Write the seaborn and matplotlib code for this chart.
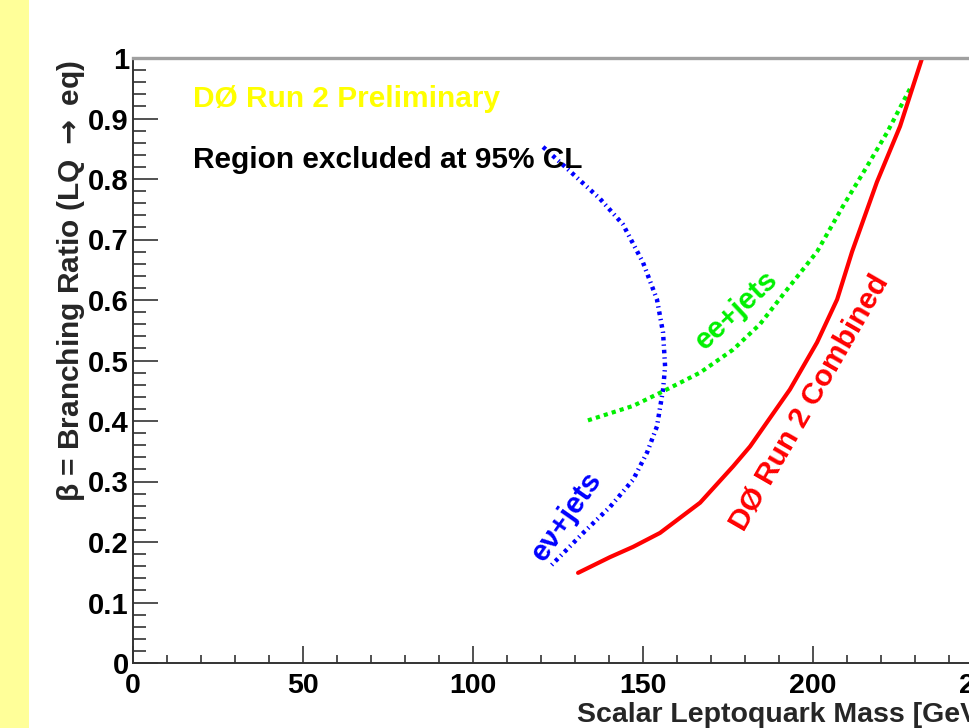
import numpy as np
import pandas as pd
import matplotlib
matplotlib.use("Agg")
import matplotlib.pyplot as plt
import seaborn as sns
from matplotlib.ticker import MultipleLocator, FixedLocator, FixedFormatter
from matplotlib.patches import Rectangle

# ---------------- data ----------------
combined_mass = [130.9, 140.3, 147.1, 155.0, 166.8, 176.5, 181.5, 193.2, 201.2, 207.1, 211.5, 218.8, 225.6, 232.1]
combined_beta = [0.149, 0.175, 0.192, 0.215, 0.265, 0.325, 0.358, 0.452, 0.530, 0.601, 0.680, 0.795, 0.887, 1.000]

ee_mass = [133.8, 147.1, 155.9, 166.8, 176.5, 184.4, 191.2, 201.2, 208.8, 215.9, 221.8, 228.5]
ee_beta = [0.401, 0.425, 0.449, 0.480, 0.518, 0.560, 0.609, 0.680, 0.755, 0.821, 0.877, 0.949]

enu_mass = [120.6, 128.5, 137.4, 144.1, 150.0, 154.1, 155.9, 156.5, 155.9, 154.1, 151.2, 147.1, 140.3, 132.4, 122.6]
enu_beta = [0.853, 0.813, 0.767, 0.725, 0.662, 0.601, 0.546, 0.490, 0.452, 0.391, 0.348, 0.303, 0.258, 0.215, 0.159]

x_ticks = [0, 50, 100, 150, 200, 250]
x_tick_labels = ["0", "50", "100", "150", "200", "250"]
y_ticks = [0, 0.1, 0.2, 0.3, 0.4, 0.5, 0.6, 0.7, 0.8, 0.9, 1.0]
y_tick_labels = ["0", "0.1", "0.2", "0.3", "0.4", "0.5", "0.6", "0.7", "0.8", "0.9", "1"]

x_title = "Scalar Leptoquark Mass [GeV]"
y_title = r"β = Branching Ratio (LQ $\rightarrow$ eq)"

# ---------------- style ----------------
sns.set_style("ticks")
plt.rcParams["font.family"] = ["Liberation Sans", "DejaVu Sans"]
plt.rcParams["font.weight"] = "bold"
plt.rcParams["mathtext.fontset"] = "dejavusans"

FS = 21.5

W, H = 969, 728
fig = plt.figure(figsize=(W / 100, H / 100), dpi=100)
fig.patch.set_facecolor("white")
fig.patches.append(Rectangle((0, 0), 29 / W, 1, transform=fig.transFigure,
                             facecolor="#ffff99", edgecolor="none", zorder=0))

# axes frame: left 133px, right 983px (beyond the cropped image), top 58px, bottom 663px
ax = fig.add_axes([133 / W, (H - 663) / H, 850 / W, 605 / H])
ax.set_facecolor("white")

df_comb = pd.DataFrame({"mass": combined_mass, "beta": combined_beta})
df_ee = pd.DataFrame({"mass": ee_mass, "beta": ee_beta})
df_enu = pd.DataFrame({"mass": enu_mass, "beta": enu_beta})

sns.lineplot(data=df_enu, x="mass", y="beta", sort=False, estimator=None, ax=ax,
             color="#0000ff", linewidth=3.2, dashes=(0.8, 0.9, 0.3, 0.9))
sns.lineplot(data=df_ee, x="mass", y="beta", sort=False, estimator=None, ax=ax,
             color="#00f000", linewidth=3.0, dashes=(1.0, 1.0))
sns.lineplot(data=df_comb, x="mass", y="beta", sort=False, estimator=None, ax=ax,
             color="#ff0000", linewidth=3.0)

ax.set_xlim(0, 250)
ax.set_ylim(0, 1)

ax.xaxis.set_major_locator(FixedLocator(x_ticks))
ax.xaxis.set_major_formatter(FixedFormatter(x_tick_labels))
ax.yaxis.set_major_locator(FixedLocator(y_ticks))
ax.yaxis.set_major_formatter(FixedFormatter(y_tick_labels))
ax.xaxis.set_minor_locator(MultipleLocator(10))
ax.yaxis.set_minor_locator(MultipleLocator(0.02))

ax.tick_params(axis="both", which="both", direction="in", top=False, right=False,
               colors="#222222", labelcolor="black")
ax.tick_params(axis="x", which="major", length=12, width=1.1, pad=7, labelsize=20.5)
ax.tick_params(axis="x", which="minor", length=6, width=1.1)
ax.tick_params(axis="y", which="major", length=18, width=1.1, pad=3, labelsize=21)
ax.tick_params(axis="y", which="minor", length=9, width=1.1)
for lab in ax.get_xticklabels() + ax.get_yticklabels():
    lab.set_fontweight("bold")

for side in ["left", "bottom"]:
    ax.spines[side].set_color("#333333")
    ax.spines[side].set_linewidth(1.4)
ax.spines["top"].set_color("#a0a0a0")
ax.spines["top"].set_linewidth(2.4)
ax.spines["right"].set_color("#a0a0a0")
ax.spines["right"].set_linewidth(2.4)

ax.set_xlabel(x_title, fontsize=20.5, fontweight="bold")
ax.xaxis.set_label_coords((577 - 133) / 850, (663 - 722) / 605)
ax.xaxis.label.set_ha("left")
ax.xaxis.label.set_va("baseline")
ax.set_ylabel(y_title, fontsize=FS, fontweight="bold", loc="top")
ax.yaxis.set_label_coords(-0.0735, 0.996)
ax.yaxis.label.set_va("center")

ax.text(0.0706, 0.919, "DØ Run 2 Preliminary", transform=ax.transAxes, color="#ffff00",
        fontsize=FS, fontweight="bold", ha="left", va="baseline")
ax.text(0.0706, 0.818, "Region excluded at 95% CL", transform=ax.transAxes, color="black",
        fontsize=FS, fontweight="bold", ha="left", va="baseline")

ax.text(127.6, 0.242, "eν+jets", color="#0000ff", fontsize=FS, fontweight="bold",
        rotation=55, rotation_mode="anchor", ha="center", va="center")
ax.text(177.6, 0.584, "ee+jets", color="#00f000", fontsize=FS, fontweight="bold",
        rotation=43, rotation_mode="anchor", ha="center", va="center")
ax.text(199.1, 0.430, "DØ Run 2 Combined", color="#ff0000", fontsize=FS, fontweight="bold",
        rotation=60, rotation_mode="anchor", ha="center", va="center")

fig.savefig("out.png", dpi=100)
